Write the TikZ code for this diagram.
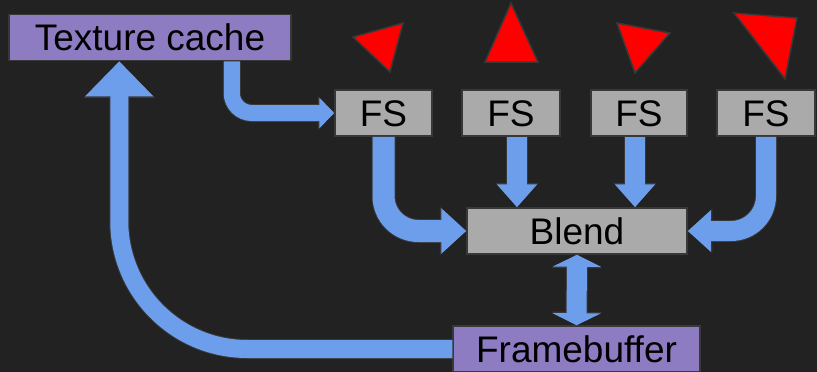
\documentclass[tikz,border=0pt]{standalone}
\usepackage{fontspec}
\setmainfont{Liberation Sans}
\usetikzlibrary{arrows.meta,calc}
\definecolor{bgc}{HTML}{222222}
\definecolor{edgec}{HTML}{383838}
\definecolor{flowc}{HTML}{6D9EEB}
\definecolor{purp}{HTML}{8E7CC3}
\definecolor{grayc}{HTML}{AAAAAA}
\tikzset{
  box/.style={draw=edgec, line width=1.5pt, inner sep=0pt, minimum height=46pt,
    text height=26.5pt, text depth=0pt, font=\fontsize{37}{44}\selectfont, text=black},
  purplebox/.style={box, fill=purp},
  graybox/.style={box, fill=grayc},
  flow/.style n args={6}{draw=flowc, line width=#1pt, -{Triangle[length=#2pt,width=#3pt]},
    preaction={draw=edgec, line width=#4pt, -{Triangle[length=#5pt,width=#6pt]}}},
  dflow/.style n args={6}{draw=flowc, line width=#1pt, {Triangle[length=#2pt,width=#3pt]}-{Triangle[length=#2pt,width=#3pt]},
    preaction={draw=edgec, line width=#4pt, {Triangle[length=#5pt,width=#6pt]}-{Triangle[length=#5pt,width=#6pt]}}},
  tri/.style={fill=red, draw=edgec, line width=1.5pt, line join=miter},
}
\begin{document}
\begin{tikzpicture}[x=1pt,y=-1pt]
\fill[bgc] (0,0) rectangle (817,372);
\useasboundingbox (0,0) rectangle (817,372);

% nodes
\node[purplebox, minimum width=282pt] (tc) at (150,37.5) {Texture cache};
\node[graybox, minimum width=97pt] (fs1) at (383.5,113) {FS};
\node[graybox, minimum width=98pt] (fs2) at (511,113) {FS};
\node[graybox, minimum width=96pt] (fs3) at (639,113) {FS};
\node[graybox, minimum width=98pt] (fs4) at (766,113) {FS};
\node[graybox, minimum width=220pt] (blend) at (577,231) {Blend};
\node[purplebox, minimum width=247pt] (fb) at (576.5,349) {Framebuffer};

% triangles
\draw[tri] (353,37) -- (403,23) -- (390,72) -- cycle;
\draw[tri] (511,3) -- (538,62) -- (485,62) -- cycle;
\draw[tri] (617,23) -- (670,33) -- (635,73) -- cycle;
\draw[tri] (734,13) -- (797,18) -- (785,79) -- cycle;

% connectors
\draw[flow={16}{15}{30}{18}{16.5}{33}, rounded corners=20pt]
  ($(tc.south east)+(-60,0)$) |- (fs1.west);
\draw[flow={22}{25}{44}{24}{26.5}{47}, rounded corners=35pt]
  (fs1.south) |- (blend.west);
\draw[flow={20}{23}{39}{22}{24.5}{42}]
  ($(fs2.south)+(6,0)$) -- ($(fs2.south |- blend.north)+(6,0)$);
\draw[flow={20}{23}{39}{22}{24.5}{42}]
  ($(fs3.south)+(-4,0)$) -- ($(fs3.south |- blend.north)+(-4,0)$);
\draw[flow={20}{23}{40}{22}{24.5}{43}, rounded corners=35pt]
  (fs4.south) |- (blend.east);
\draw[dflow={20}{12}{48}{22}{13.5}{51}]
  (blend.south) -- (fb.north);
\draw[flow={18}{35}{66}{20}{36.5}{69}, rounded corners=128pt]
  (fb.west) -| ($(tc.south west)+(111,0)$);
\end{tikzpicture}
\end{document}
